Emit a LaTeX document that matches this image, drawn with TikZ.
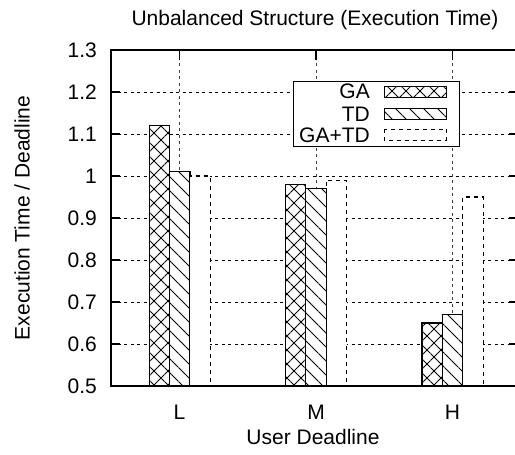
\documentclass[tikz,border=0pt]{standalone}
\usepackage{fontspec}
\setmainfont{Liberation Sans}
\usetikzlibrary{patterns.meta}
\begin{document}
\begin{tikzpicture}[x=1pt,y=-1pt,
  lbl/.style={font=\fontsize{21}{24}\selectfont, inner sep=0pt},
  grd/.style={line width=0.9pt, dash pattern=on 3pt off 3.5pt},
  vgrd/.style={grd, black!75},
  frame/.style={line width=1.6pt},
  tick/.style={line width=1.4pt},
  barout/.style={draw=black, line width=1.2pt},
  gafill/.style={pattern={Hatch[distance=9.9pt, angle=45, line width=0.9pt]}, pattern color=black},
  tdfill/.style={pattern={Lines[distance=9.9pt, angle=-45, line width=0.9pt]}, pattern color=black},
  gtdline/.style={draw=black, line width=1.1pt, dash pattern=on 4pt off 4pt},
]
\useasboundingbox (0,0) rectangle (515,455);
\begin{scope}
\clip (0,0) rectangle (515,455);

% horizontal grid
\foreach \yy in {344,302,260,218,176,134,92}
  \draw[grd] (111,\yy) -- (518,\yy);
% vertical grid at the categories
\foreach \xx in {179.5,316,452.5}
  \draw[vgrd] (\xx,50) -- (\xx,386);

% bars: group centre, GA top, TD top, GA+TD top
\foreach \c/\ga/\td/\gt in {179.7/125.6/171.8/176, 316/184.4/188.6/180.2, 452.5/323/314.6/197}{
  % GA
  \fill[white] (\c-30.5,386) rectangle (\c-10.2,\ga);
  \path[gafill] (\c-30.5,386) rectangle (\c-10.2,\ga);
  \draw[barout] (\c-30.5,386) rectangle (\c-10.2,\ga);
  % TD
  \fill[white] (\c-10.2,386) rectangle (\c+10.2,\td);
  \path[tdfill] (\c-10.2,386) rectangle (\c+10.2,\td);
  \draw[barout] (\c-10.2,386) rectangle (\c+10.2,\td);
  % GA+TD
  \fill[white] (\c+10.6,386) rectangle (\c+30.7,\gt);
  \draw[gtdline] (\c+10.2,386) -- (\c+10.2,\gt) -- (\c+30.7,\gt) -- (\c+30.7,386);
}

% legend
\node[draw=black, fill=white, line width=1pt, minimum width=166pt, minimum height=64.7pt, inner sep=0pt]
  (legend) at (376.3,113.65) {};
\node[lbl, anchor=east] (lga) at (370,91.7) {GA};
\node[lbl, anchor=east] (ltd) at (370,114) {TD};
\node[lbl, anchor=east] (lgt) at (370,135) {GA+TD};
\fill[white] (384,86.7) rectangle (446.7,97.3);
\path[gafill] (384,86.7) rectangle (446.7,97.3);
\draw[barout, line width=1pt] (384,86.7) rectangle (446.7,97.3);
\fill[white] (384,108.7) rectangle (446.7,119.3);
\path[tdfill] (384,108.7) rectangle (446.7,119.3);
\draw[barout, line width=1pt] (384,108.7) rectangle (446.7,119.3);
\draw[gtdline, line width=1pt] (384,129.3) rectangle (446.7,140);

% frame and ticks
\draw[frame] (111,50) rectangle (518,386);
\foreach \yy/\t [count=\i] in {386/0.5,344/0.6,302/0.7,260/0.8,218/0.9,176/1,134/1.1,92/1.2,50/1.3}{
  \node[lbl, anchor=east] (ytick\i) at (97,\yy) {\t};
  \draw[tick] (111,\yy) -- (120,\yy);
  \draw[tick] (518,\yy) -- (509,\yy);
}
\foreach \xx/\t [count=\i] in {179.5/L,316/M,452.5/H}{
  \draw[tick] (\xx,50) -- (\xx,60);
  \node[lbl, anchor=base] (xtick\i) at (\xx,419.5) {\t};
}
\end{scope}

% titles
\node[lbl, anchor=base] (title) at (315,25) {Unbalanced Structure (Execution Time)};
\node[lbl, anchor=base] (xlabel) at (313,444) {User Deadline};
\node[lbl, rotate=90] (ylabel) at (22,218) {Execution Time / Deadline};
\end{tikzpicture}
\end{document}
